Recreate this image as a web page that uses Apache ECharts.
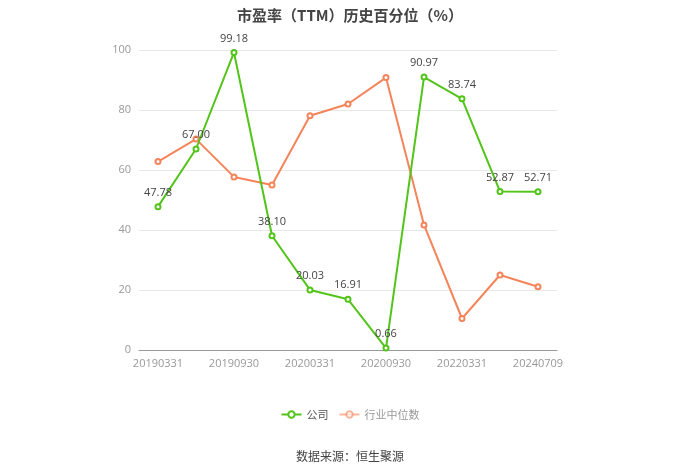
<!DOCTYPE html>
<html><head><meta charset="utf-8">
<script src="https://cdn.jsdelivr.net/npm/echarts@6/dist/echarts.min.js"></script>
<style>html,body{margin:0;padding:0;background:#fff}#c{width:700px;height:473px}</style>
</head><body><div id="c"></div>
<script>
var categories = ['20190331','20190630','20190930','20191231','20200331','20200630','20200930','20210331','20220331','20230331','20240709'];
var companyValues = [47.78, 67.00, 99.18, 38.10, 20.03, 16.91, 0.66, 90.97, 83.74, 52.87, 52.71];
var industryValues = [62.8, 70.3, 57.7, 55.0, 78.1, 82.0, 90.8, 41.7, 10.5, 25.0, 21.1];
var yTicks = [0, 20, 40, 60, 80, 100];

var chart = echarts.init(document.getElementById('c'));
chart.setOption({
  animation: false,
  title: {
    text: '市盈率（TTM）历史百分位（%）',
    left: 'center', top: 3,
    textStyle: {fontSize: 15, fontWeight: 'bold', color: '#444', fontFamily: 'Noto Sans CJK SC'}
  },
  legend: {
    bottom: 48, left: 'center', itemGap: 10, itemWidth: 20, itemHeight: 8,
    textStyle: {fontSize: 11, color: '#555', fontFamily: 'Noto Sans CJK SC'},
    data: [
      {name: '公司'},
      {name: '行业中位数', itemStyle: {opacity: 0.6}, lineStyle: {opacity: 0.6}, textStyle: {color: '#999'}}
    ]
  },
  graphic: [{
    type: 'text', left: 'center', top: 450,
    style: {text: '数据来源：恒生聚源', fontSize: 12, fill: '#444', fontFamily: 'Noto Sans CJK SC'}
  }],
  grid: {left: 139, right: 143, top: 50, bottom: 123},
  xAxis: {
    type: 'category', data: categories, boundaryGap: true,
    axisLine: {lineStyle: {color: '#999'}},
    axisTick: {alignWithLabel: true, interval: 1, lineStyle: {color: '#999'}},
    axisLabel: {interval: 1, color: '#999', fontSize: 11, fontFamily: 'Open Sans'}
  },
  yAxis: {
    type: 'value', min: yTicks[0], max: yTicks[yTicks.length - 1], interval: 20,
    axisLine: {show: false}, axisTick: {show: false},
    axisLabel: {color: '#999', fontSize: 11, fontFamily: 'Open Sans'},
    splitLine: {lineStyle: {color: '#e8e8e8'}}
  },
  series: [{
    name: '公司', type: 'line', data: companyValues,
    symbol: 'emptyCircle', symbolSize: 5,
    itemStyle: {color: '#52c41a'}, lineStyle: {width: 2, color: '#52c41a'},
    label: {show: true, position: 'top', color: '#444', fontSize: 11, fontFamily: 'Open Sans',
      formatter: function(p){return p.value.toFixed(2);}},
    z: 3
  }, {
    name: '行业中位数', type: 'line', data: industryValues,
    symbol: 'emptyCircle', symbolSize: 5,
    itemStyle: {color: '#f5845a'}, lineStyle: {width: 2, color: '#f5845a'},
    z: 2
  }]
});
</script></body></html>
